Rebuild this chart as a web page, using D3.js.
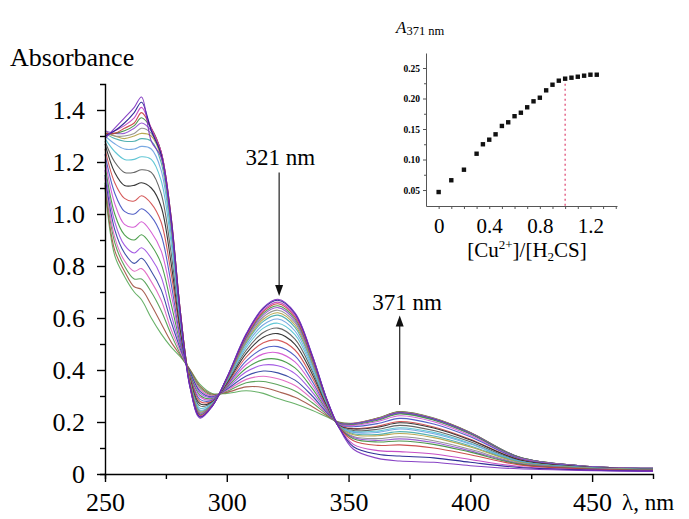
<!DOCTYPE html>
<html>
<head>
<meta charset="utf-8">
<script src="https://cdnjs.cloudflare.com/ajax/libs/d3/7.8.5/d3.min.js"></script>
<style>
body { margin: 0; background: #fff; }
svg text { font-family: "Liberation Serif", "Times New Roman", serif; fill: #000; }
</style>
</head>
<body>
<svg id="chart" width="689" height="519"></svg>
<script>
// sampled wavelengths (nm)
var wavelengths = [250,254,258,262,265,269,273,277,281,285,289,294,300,308,315,321,328,335,341,346,352,362,371,385,400,420,445,475];

// absorbance, one row per wavelength, 23 spectra per row (free H2CS first, 1.25 eq Cu2+ last)
var absRows = [
  [1.29,1.30,1.30,1.31,1.31,1.32,1.32,1.31,1.31,1.30,1.29,1.28,1.27,1.25,1.23,1.21,1.19,1.17,1.15,1.14,1.12,1.11,1.10],
  [1.33,1.32,1.32,1.31,1.31,1.31,1.30,1.30,1.29,1.27,1.24,1.20,1.16,1.12,1.08,1.04,1.00,0.97,0.94,0.91,0.89,0.86,0.84],
  [1.37,1.35,1.34,1.33,1.32,1.31,1.30,1.29,1.28,1.25,1.21,1.16,1.11,1.06,1.01,0.96,0.92,0.88,0.85,0.82,0.80,0.78,0.76],
  [1.41,1.39,1.37,1.35,1.34,1.33,1.31,1.30,1.28,1.25,1.21,1.16,1.11,1.05,1.00,0.95,0.90,0.85,0.81,0.78,0.75,0.72,0.70],
  [1.45,1.43,1.41,1.39,1.37,1.35,1.33,1.31,1.29,1.26,1.22,1.17,1.12,1.07,1.02,0.97,0.92,0.87,0.83,0.79,0.75,0.71,0.67],
  [1.28,1.32,1.33,1.33,1.33,1.32,1.31,1.30,1.28,1.25,1.21,1.16,1.10,1.04,0.99,0.93,0.88,0.83,0.78,0.74,0.70,0.65,0.60],
  [1.22,1.23,1.24,1.24,1.24,1.24,1.23,1.22,1.20,1.17,1.13,1.08,1.03,0.97,0.92,0.86,0.81,0.76,0.71,0.67,0.63,0.58,0.54],
  [0.98,0.99,1.00,1.00,1.00,0.99,0.98,0.97,0.95,0.93,0.90,0.86,0.82,0.78,0.74,0.70,0.66,0.62,0.59,0.56,0.54,0.51,0.49],
  [0.60,0.61,0.62,0.62,0.62,0.62,0.61,0.61,0.60,0.59,0.58,0.57,0.55,0.54,0.52,0.51,0.50,0.49,0.48,0.47,0.46,0.455,0.45],
  [0.33,0.33,0.33,0.34,0.34,0.34,0.34,0.35,0.35,0.35,0.35,0.36,0.36,0.37,0.37,0.37,0.38,0.38,0.39,0.39,0.395,0.40,0.40],
  [0.215,0.219,0.222,0.225,0.228,0.232,0.235,0.238,0.242,0.246,0.253,0.262,0.27,0.279,0.287,0.296,0.303,0.311,0.318,0.325,0.332,0.338,0.345],
  [0.26,0.26,0.262,0.262,0.263,0.264,0.266,0.267,0.268,0.27,0.272,0.275,0.277,0.28,0.284,0.287,0.29,0.294,0.297,0.30,0.303,0.307,0.31],
  [0.37,0.37,0.368,0.367,0.366,0.365,0.363,0.362,0.36,0.358,0.356,0.353,0.349,0.345,0.341,0.338,0.334,0.33,0.326,0.322,0.318,0.314,0.31],
  [0.54,0.538,0.533,0.53,0.526,0.521,0.516,0.51,0.505,0.496,0.487,0.476,0.464,0.45,0.435,0.421,0.407,0.393,0.377,0.364,0.351,0.335,0.32],
  [0.64,0.637,0.63,0.625,0.619,0.612,0.604,0.595,0.587,0.574,0.561,0.544,0.526,0.505,0.483,0.462,0.44,0.419,0.396,0.376,0.356,0.333,0.31],
  [0.672,0.668,0.661,0.655,0.647,0.64,0.63,0.62,0.611,0.596,0.58,0.561,0.54,0.515,0.49,0.466,0.441,0.416,0.389,0.366,0.343,0.317,0.29],
  [0.62,0.617,0.61,0.604,0.597,0.59,0.582,0.573,0.564,0.55,0.536,0.519,0.499,0.477,0.454,0.431,0.408,0.386,0.361,0.34,0.319,0.295,0.27],
  [0.46,0.458,0.454,0.45,0.446,0.442,0.436,0.431,0.426,0.417,0.408,0.398,0.386,0.372,0.358,0.344,0.33,0.316,0.301,0.288,0.275,0.26,0.245],
  [0.29,0.289,0.288,0.287,0.285,0.284,0.282,0.281,0.279,0.276,0.273,0.27,0.266,0.261,0.257,0.252,0.248,0.243,0.238,0.234,0.23,0.225,0.22],
  [0.18,0.18,0.181,0.181,0.181,0.182,0.182,0.183,0.183,0.184,0.185,0.186,0.187,0.188,0.19,0.191,0.192,0.193,0.195,0.196,0.197,0.199,0.20],
  [0.095,0.105,0.114,0.128,0.136,0.14,0.144,0.151,0.155,0.16,0.163,0.167,0.173,0.175,0.182,0.187,0.19,0.192,0.193,0.194,0.194,0.195,0.195],
  [0.06,0.076,0.09,0.11,0.123,0.129,0.136,0.147,0.152,0.16,0.165,0.172,0.18,0.184,0.194,0.202,0.207,0.21,0.211,0.213,0.214,0.215,0.215],
  [0.05,0.069,0.086,0.112,0.127,0.135,0.143,0.156,0.163,0.173,0.178,0.187,0.197,0.202,0.214,0.224,0.231,0.233,0.235,0.237,0.238,0.239,0.24],
  [0.045,0.062,0.077,0.10,0.114,0.121,0.128,0.14,0.146,0.155,0.16,0.167,0.177,0.181,0.192,0.201,0.207,0.209,0.211,0.213,0.213,0.214,0.215],
  [0.032,0.045,0.056,0.074,0.084,0.089,0.095,0.104,0.108,0.115,0.118,0.124,0.131,0.134,0.143,0.149,0.154,0.156,0.157,0.158,0.159,0.16,0.16],
  [0.02,0.025,0.029,0.035,0.038,0.04,0.042,0.045,0.047,0.049,0.05,0.052,0.055,0.056,0.059,0.061,0.063,0.063,0.064,0.064,0.065,0.065,0.065],
  [0.014,0.016,0.017,0.02,0.021,0.022,0.023,0.024,0.025,0.026,0.026,0.027,0.028,0.028,0.03,0.031,0.031,0.031,0.032,0.032,0.032,0.032,0.032],
  [0.01,0.011,0.012,0.014,0.015,0.015,0.016,0.017,0.017,0.018,0.018,0.019,0.019,0.02,0.02,0.021,0.021,0.022,0.022,0.022,0.022,0.022,0.022]
];

var lineColors = ["#7b2fbf","#1a1a8c","#c03cc0","#c83c3c","#3c8c3c","#9050d0","#8a8a8a","#b0a040",
                  "#40a8a8","#6aa0e0","#50c0d0","#555555","#222222","#d04848","#4050c0","#d050d0",
                  "#3c963c","#9a4ae0","#283c9c","#e060c0","#4a9a4a","#a05040","#58a858"];

// inset: [Cu2+]/[H2CS] ratio vs A at 371 nm
var ratios = [0,0.1,0.2,0.3,0.35,0.4,0.45,0.5,0.55,0.6,0.65,0.7,0.75,0.8,0.85,0.9,0.95,1.0,1.05,1.1,1.15,1.2,1.25];
var a371 = [0.0467,0.066,0.0833,0.1095,0.125,0.1325,0.1413,0.155,0.161,0.171,0.1767,0.1856,0.1954,0.2013,0.2134,0.2226,0.2292,0.2325,0.2341,0.2357,0.2374,0.239,0.239];

var yTicks = [0,0.2,0.4,0.6,0.8,1.0,1.2,1.4];
var yMinor = [0.1,0.3,0.5,0.7,0.9,1.1,1.3];
var xTicks = [250,300,350,400,450];
var xMinor = [275,325,375,425];
var insetYTicks = [0.05,0.10,0.15,0.20,0.25];
var insetYMinor = [0.075,0.125,0.175,0.225];
var insetXTicks = [0,0.4,0.8,1.2];
var insetXMinor = [0.1,0.2,0.3,0.5,0.6,0.7,0.9,1.0,1.1,1.3,1.4];
var stoichRatio = 1.0;

var svg = d3.select("#chart");

var x = d3.scaleLinear().domain([250, 475]).range([105, 653]);
var y = d3.scaleLinear().domain([0, 1.5]).range([474, 84]);

// spectra
var spectra = absRows[0].map(function(_, k) {
    return wavelengths.map(function(w, i) { return [w, absRows[i][k]]; });
});

var line = d3.line()
    .x(function(d) { return x(d[0]); })
    .y(function(d) { return y(d[1]); })
    .curve(d3.curveCatmullRom.alpha(0.5));

svg.append("g")
    .selectAll("path")
    .data(spectra.map(function(s, i) { return {s: s, i: i}; }).reverse())
    .enter()
    .append("path")
    .attr("d", function(d) { return line(d.s); })
    .attr("fill", "none")
    .attr("stroke", function(d) { return lineColors[d.i]; })
    .attr("stroke-width", 1.1)
    .attr("stroke-opacity", 0.9);

// axes
function styleAxis(g, size) {
    g.attr("font-family", null).attr("font-size", null);
    g.selectAll("path,line").attr("stroke", "#000").attr("stroke-width", 1.4);
    g.selectAll("text").style("font-size", size + "px");
}

var gyMinor = svg.append("g").attr("transform", "translate(105,0)")
    .call(d3.axisLeft(y).tickValues(yMinor).tickSize(5).tickFormat(""));
gyMinor.select(".domain").remove();
styleAxis(gyMinor, 26);

var gy = svg.append("g").attr("transform", "translate(105,0)")
    .call(d3.axisLeft(y).tickValues(yTicks).tickSize(8).tickSizeOuter(5).tickPadding(12)
        .tickFormat(function(d) { return d === 0 ? "0" : d3.format(".1f")(d); }));
styleAxis(gy, 26);

var gxMinor = svg.append("g").attr("transform", "translate(0,474)")
    .call(d3.axisBottom(x).tickValues(xMinor).tickSize(5).tickFormat(""));
gxMinor.select(".domain").remove();
styleAxis(gxMinor, 26);

var gx = svg.append("g").attr("transform", "translate(0,474)")
    .call(d3.axisBottom(x).tickValues(xTicks).tickSize(8).tickSizeOuter(5).tickPadding(11)
        .tickFormat(function(d) { return d; }));
styleAxis(gx, 26);

svg.append("text").attr("x", 10).attr("y", 66).style("font-size", "26px").text("Absorbance");
svg.append("text").attr("x", 622).attr("y", 510).style("font-size", "23px").text("\u03bb, nm");

// arrows with band labels
var arrows = [
    {label: "321 nm", lambda: 321.5, from: 1.16, to: 0.685, labelLambda: 322, labelA: 1.19},
    {label: "371 nm", lambda: 371, from: 0.265, to: 0.61, labelLambda: 374, labelA: 0.63}
];
arrows.forEach(function(a) {
    var dir = a.to < a.from ? 1 : -1;
    var tipY = y(a.to);
    svg.append("line")
        .attr("x1", x(a.lambda)).attr("x2", x(a.lambda))
        .attr("y1", y(a.from)).attr("y2", tipY - dir * 8)
        .attr("stroke", "#222").attr("stroke-width", 1.2);
    svg.append("path")
        .attr("d", "M" + x(a.lambda) + "," + tipY +
                   "L" + (x(a.lambda) - 4) + "," + (tipY - dir * 11) +
                   "L" + (x(a.lambda) + 4) + "," + (tipY - dir * 11) + "Z")
        .attr("fill", "#111");
    svg.append("text")
        .attr("x", x(a.labelLambda)).attr("y", y(a.labelA))
        .attr("text-anchor", "middle").style("font-size", "23px")
        .text(a.label);
});

// inset
var ix = d3.scaleLinear().domain([-0.1, 1.41]).range([426, 617]);
var iy = d3.scaleLinear().domain([0.0238, 0.2746]).range([206, 53]);

function styleInset(g) {
    g.attr("font-family", null).attr("font-size", null);
    g.selectAll("path,line").attr("stroke", "#555").attr("stroke-width", 1);
}

var iyMinor = svg.append("g").attr("transform", "translate(426,0)")
    .call(d3.axisLeft(iy).tickValues(insetYMinor).tickSize(2).tickFormat(""));
iyMinor.select(".domain").remove();
styleInset(iyMinor);

var iyAxis = svg.append("g").attr("transform", "translate(426,0)")
    .call(d3.axisLeft(iy).tickValues(insetYTicks).tickSize(3).tickSizeOuter(0).tickPadding(3)
        .tickFormat(d3.format(".2f")));
styleInset(iyAxis);
iyAxis.selectAll("text").style("font-size", "9.5px").style("font-weight", "bold");

var ixMinor = svg.append("g").attr("transform", "translate(0,206)")
    .call(d3.axisBottom(ix).tickValues(insetXMinor).tickSize(3).tickFormat(""));
ixMinor.select(".domain").remove();
styleInset(ixMinor);

var ixAxis = svg.append("g").attr("transform", "translate(0,206)")
    .call(d3.axisBottom(ix).tickValues(insetXTicks).tickSize(3).tickSizeOuter(0).tickPadding(9)
        .tickFormat(function(d) { return d === 0 ? "0" : d3.format(".1f")(d); }));
styleInset(ixAxis);
ixAxis.selectAll("text").style("font-size", "21px");

// stoichiometry marker
svg.append("line")
    .attr("x1", ix(stoichRatio)).attr("x2", ix(stoichRatio))
    .attr("y1", iy(a371[ratios.indexOf(stoichRatio)])).attr("y2", iy(0.0238))
    .attr("stroke", "#e0507a").attr("stroke-width", 1.3)
    .attr("stroke-dasharray", "2,3");

svg.append("g")
    .selectAll("rect")
    .data(ratios)
    .enter()
    .append("rect")
    .attr("x", function(d) { return ix(d) - 2.2; })
    .attr("y", function(d, i) { return iy(a371[i]) - 2.2; })
    .attr("width", 4.4).attr("height", 4.4)
    .attr("fill", "#111");

var xt = svg.append("text").attr("x", 527).attr("y", 257)
    .attr("text-anchor", "middle").style("font-size", "21px");
xt.append("tspan").text("[Cu");
xt.append("tspan").attr("dy", -8).style("font-size", "13px").text("2+");
xt.append("tspan").attr("dy", 8).text("]/[H");
xt.append("tspan").attr("dy", 4).style("font-size", "13px").text("2");
xt.append("tspan").attr("dy", -4).text("CS]");

var yt = svg.append("text").attr("x", 396).attr("y", 33);
yt.append("tspan").style("font-size", "17px").style("font-style", "italic").text("A");
yt.append("tspan").attr("dy", 2).style("font-size", "12.5px").text("371 nm");
</script>
</body>
</html>
